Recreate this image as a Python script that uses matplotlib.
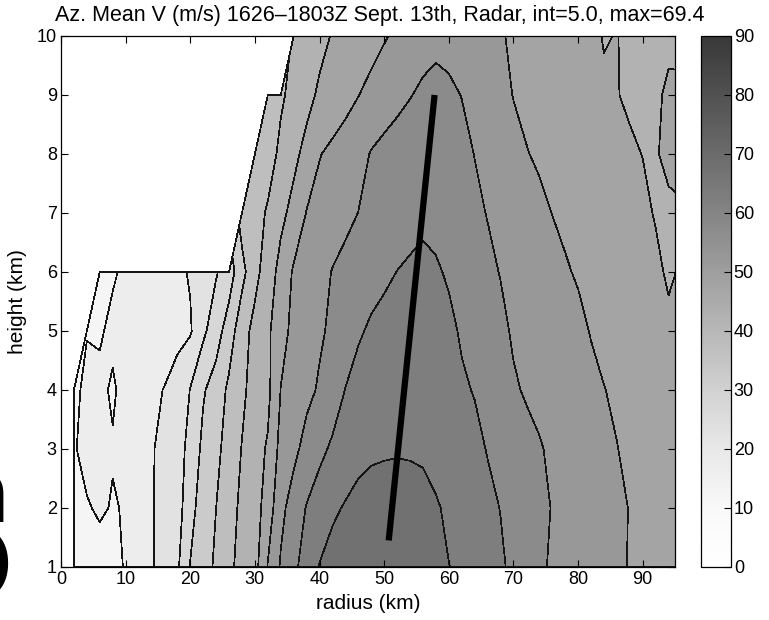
import numpy as np
import matplotlib
matplotlib.use("Agg")
import matplotlib.pyplot as plt
from matplotlib.colors import LinearSegmentedColormap, Normalize
from matplotlib.cm import ScalarMappable

nan = np.nan

# radar azimuthal-mean tangential wind, rows are heights 1..10 km,
# columns are radii 0, 2, 4, ... 96 km (nan = no radar coverage)
radius = np.arange(0, 97, 2)
height = np.arange(1, 11)

v_z1 = [nan, 11, 12, 12.5, 13.5, 15.4, 17.5, 19.6, 21.5, 24.2, 30.2, 33, 35.8, 38.9, 41.7, 43.2,
        50.3, 55.5, 58.9, 62.2, 65.2, 66.8, 67.8, 68.5, 69.0, 69.1, 69.2, 68.8, 67.9, 66.6, 65.1,
        63.9, 62.8, 61.7, 60.6, 59.1, 57.6, 56.0, 54.3, 53.5, 52.8, 52.1, 51.4, 50.7, 49.8, 49.2,
        48.7, 48.3, 48.0]
v_z2 = [nan, 12, 14.5, 15.8, 14.6, 15.4, 17.6, 19.6, 21.6, 22.8, 28.4, 32.3, 35.0, 38.2, 41.0, 43.0,
        47.2, 53.8, 57.0, 60.3, 62.5, 64.2, 65.4, 66.8, 68.0, 69.0, 69.4, 69.0, 68.0, 65.6, 64.0,
        62.8, 61.9, 61.0, 59.9, 58.7, 57.5, 56.3, 54.8, 53.8, 53.0, 52.2, 51.4, 50.6, 49.9, 49.2,
        48.6, 48.1, 47.7]
v_z3 = [nan, 14.5, 16.8, 16.5, 15.4, 16.5, 18.0, 19.7, 21.0, 23.0, 26.5, 31.2, 33.8, 37.0, 40.2, 43.2,
        45.5, 51.6, 53.9, 56.5, 58.8, 60.8, 62.2, 63.2, 63.8, 64.0, 64.2, 64.0, 63.6, 63.0, 62.4,
        61.8, 61.0, 59.8, 58.6, 57.5, 56.5, 55.4, 54.2, 53.2, 52.5, 51.8, 51.0, 50.1, 49.2, 48.6,
        48.0, 47.4, 47.0]
v_z4 = [nan, 14, 16, 16, 14.4, 16.5, 17.5, 19.4, 20.1, 20.6, 25.2, 29.5, 32.2, 36.0, 39.0, 42.0,
        43.8, 50.1, 52.0, 53.9, 55.5, 57.4, 60.1, 61.5, 62.3, 62.8, 63.0, 63.0, 62.7, 62.0, 61.2,
        60.5, 59.8, 58.8, 57.6, 55.6, 54.5, 53.7, 53.0, 52.4, 51.8, 51.0, 50.1, 49.4, 48.7, 48.0,
        47.3, 46.6, 46.0]
v_z5 = [nan, nan, 14.8, 14.5, 16.0, 17.0, 17.6, 18.3, 18.5, 19.6, 19.5, 24.0, 27.8, 32.5, 38.0, 41.5,
        44.0, 48.6, 51.0, 52.5, 54.4, 55.8, 57.6, 59.5, 60.6, 61.2, 61.5, 61.7, 61.7, 61.4, 60.8,
        59.6, 58.5, 57.5, 56.2, 54.4, 53.7, 53.1, 52.5, 51.8, 51.0, 49.8, 49.0, 48.3, 47.6, 47.0,
        46.4, 45.6, 45.2]
v_z6 = [nan, nan, nan, 13.0, 14.5, 15.8, 16.8, 17.6, 18.3, 19.0, 20.4, 22.0, 24.6, 27.5, 33.5, 38.5,
        42.5, 46.6, 50.6, 52.0, 53.4, 55.2, 56.5, 57.6, 58.5, 59.3, 60.05, 60.5, 60.8, 60.4, 59.6,
        58.5, 57.3, 56.1, 54.8, 53.6, 52.8, 52.1, 51.3, 50.4, 49.6, 48.8, 48.0, 47.3, 46.7, 46.2,
        45.6, 44.6, 45.3]
v_z7 = [nan] * 14 + [37.0, 39.0, 40.3, 43.8, 46.5, 50.2, 51.5, 52.6, 53.7, 55.05, 56.2, 57.2, 58.0,
                     58.8, 59.3, 59.0, 58.2, 57.2, 56.0, 54.8, 53.7, 52.8, 52.0, 51.0, 49.95, 49.2,
                     48.5, 47.9, 47.3, 46.8, 46.2, 45.6, 44.8, 44.5, 44.7]
v_z8 = [nan] * 15 + [38.0, 38.8, 40.6, 43.8, 46.5, 49.8, 51.0, 52.0, 53.3, 55.3, 56.3, 57.0, 57.6,
                     58.0, 57.8, 57.2, 56.3, 54.9, 53.5, 52.0, 51.0, 50.2, 49.4, 48.7, 48.0, 47.4,
                     46.9, 46.4, 45.9, 45.4, 44.95, 44.8, 45.6, 45.9]
v_z9 = [nan] * 16 + [38.5, 39.6, 40.8, 43.5, 45.8, 47.2, 48.6, 49.9, 51.3, 52.6, 53.8, 54.8, 55.8,
                     56.2, 55.8, 54.9, 53.5, 52.2, 51.0, 49.9, 49.0, 48.2, 47.6, 47.0, 46.5, 46.0,
                     45.5, 45.1, 44.6, 44.3, 44.6, 45.4, 45.5]
v_z10 = [nan] * 18 + [40.2, 42.0, 43.6, 45.3, 46.2, 47.2, 48.3, 49.6, 50.8, 52.0, 53.2, 54.0, 53.6,
                      52.8, 52.0, 51.0, 50.3, 49.5, 48.8, 48.2, 47.6, 47.0, 46.4, 45.8, 44.8, 45.1,
                      44.3, 44.0, 44.2, 44.5, 44.3]

levels = np.arange(0, 95, 5)
cbar_ticks = np.arange(0, 91, 10)

# radius of maximum wind, tilting outward with height
rmw_r = [50.7, 57.8]
rmw_z = [1.45, 9.0]

# grey shades of the colour scale at 0, 10, ... 90 m/s
grey_stops = [1.0, 0.975, 0.91, 0.82, 0.72, 0.62, 0.52, 0.42, 0.32, 0.22]

plt.rcParams['font.family'] = ['Liberation Sans', 'DejaVu Sans']

fig = plt.figure(figsize=(7.69, 6.2), dpi=100)
ax = fig.add_axes([0.0793, 0.0855, 0.7985, 0.8565])
cax = fig.add_axes([0.9116, 0.0855, 0.039, 0.8565])

vt = np.ma.masked_invalid(np.array([v_z1, v_z2, v_z3, v_z4, v_z5,
                                    v_z6, v_z7, v_z8, v_z9, v_z10]))

cmap = LinearSegmentedColormap.from_list(
    'grey_r', [(i / 9, (g, g, g)) for i, g in enumerate(grey_stops)])
norm = Normalize(0, 90)

cs = ax.contourf(radius, height, vt, levels=levels, cmap=cmap, norm=norm)
cs.set_edgecolor('#151515')
cs.set_linewidth(0.5)

ax.plot(rmw_r, rmw_z, color='black', lw=4.5, solid_capstyle='butt')

ax.set_xlim(0, 95)
ax.set_ylim(1, 10)
ax.set_xticks(np.arange(0, 91, 10))
ax.set_yticks(height)
ax.tick_params(direction='in', top=True, right=True, length=5, width=0.8,
               labelsize=13, pad=3)
for sp in ax.spines.values():
    sp.set_linewidth(0.9)
ax.set_xlabel('radius (km)', fontsize=15, labelpad=4)
ax.set_ylabel('height (km)', fontsize=15, labelpad=7)

fig.text(0.4935, 0.975,
         'Az. Mean V (m/s) 1626\u20131803Z Sept. 13th, Radar, int=5.0, max=69.4',
         ha='center', va='center', fontsize=15.5)

cb = fig.colorbar(ScalarMappable(norm=norm, cmap=cmap), cax=cax, ticks=cbar_ticks)
cax.tick_params(direction='in', length=5, width=0.8, labelsize=13, pad=2)
cb.outline.set_linewidth(0.9)

# clipped lettering from the neighbouring panel
fig.text(0.013, 0.158, 'n', fontsize=62, ha='right', va='baseline', family='DejaVu Sans')
fig.text(0.017, 0.032, 'O', fontsize=72, ha='right', va='baseline', family='DejaVu Sans')

fig.savefig('out.png', dpi=100)
